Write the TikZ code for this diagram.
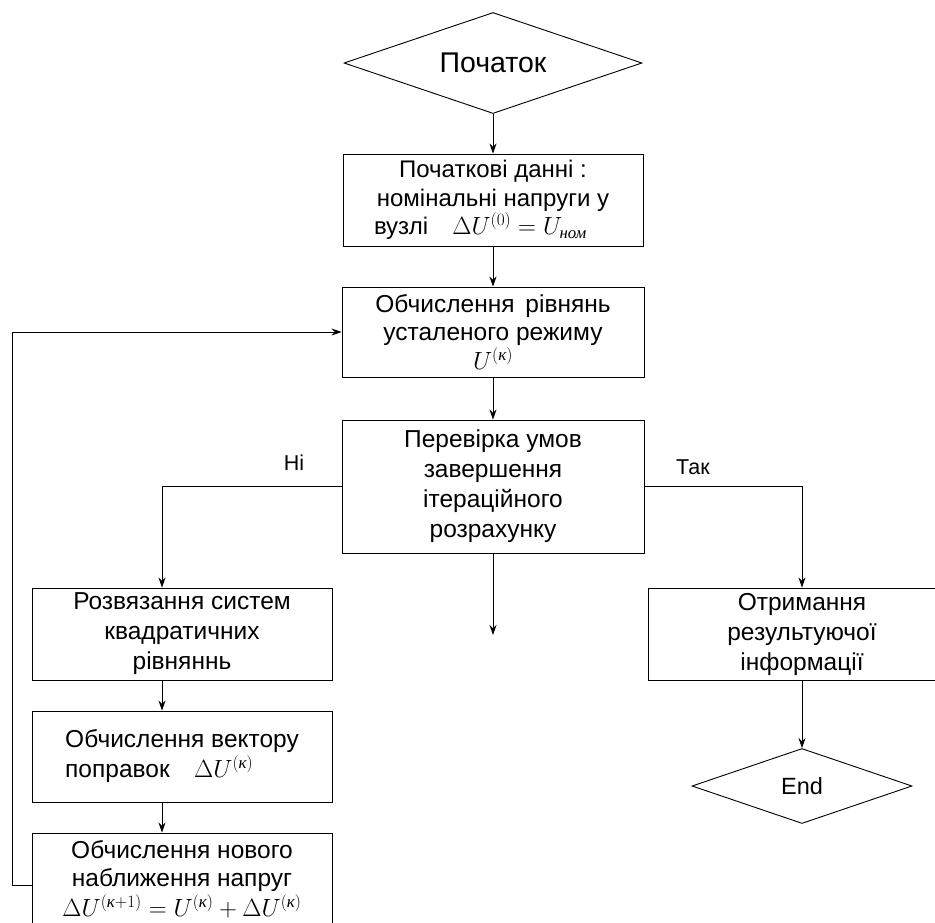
\documentclass[tikz,border=0pt]{standalone}
\usepackage{fontspec}
\usepackage{amsmath}
\setmainfont{Liberation Sans}
\newfontfamily\tnr{Liberation Serif}
\usetikzlibrary{shapes.geometric,arrows.meta}
\newcommand{\kk}{\text{\tnr\itshape к}}
\newcommand{\nom}{\text{\tnr\itshape ном}}
\begin{document}
\begin{tikzpicture}[x=1pt,y=-1pt,
  box/.style={draw, line width=0.9pt, rectangle, inner sep=0pt, font=\fontsize{24}{29}\selectfont, align=center},
  dia/.style={draw, line width=0.9pt, diamond, aspect=3, inner sep=0pt},
  arr/.style={-{Stealth[length=10pt,width=7pt]}, line width=0.9pt},
  ln/.style={line width=0.9pt},
  lbl/.style={font=\fontsize{21.5}{24}\selectfont, inner sep=0pt}]
\clip (0,0) rectangle (935,922);
\node[dia, minimum width=298pt, minimum height=101pt, font=\fontsize{28.5}{32}\selectfont] (start) at (493,63) {Початок};
\node[box, minimum width=300pt, minimum height=92pt] (b1) at (493,200)
  {Початкові данні :\\номінальні напруги у\\[-1pt]\makebox[238pt][l]{вузлі\quad $\Delta U^{(0)}=U_{\nom}$}};
\node[box, minimum width=302pt, minimum height=90pt, font=\fontsize{24.5}{28}\selectfont] (b2) at (493,332)
  {Обчислення\, рівнянь\\усталеного режиму\\[1pt]$U^{(\kk)}$};
\node[box, minimum width=302pt, minimum height=133pt, font=\fontsize{24.5}{30}\selectfont] (b3) at (493,486.5)
  {Перевірка умов\\завершення\\ітераційного\\розрахунку};
\node[box, minimum width=300pt, minimum height=92pt, font=\fontsize{24.5}{30}\selectfont] (b4) at (182,634)
  {Розвязання систем\\квадратичних\\рівняннь};
\node[box, minimum width=300pt, minimum height=91pt, font=\fontsize{24.5}{30}\selectfont] (b5) at (182,756.5)
  {\begin{tabular}{@{}l@{}}Обчислення вектору\\поправок\quad $\Delta U^{(\kk)}$\end{tabular}};
\node[box, minimum width=300pt, minimum height=92pt, font=\fontsize{24.5}{28}\selectfont] (b6) at (182,879)
  {Обчислення нового\\наближення напруг\\[2pt]$\Delta U^{(\kk+1)}=U^{(\kk)}+\Delta U^{(\kk)}$};
\node[box, minimum width=308pt, minimum height=92pt, font=\fontsize{24.5}{30}\selectfont] (br) at (802,634)
  {Отримання\\результуючої\\інформації};
\node[dia, minimum width=220pt, minimum height=75pt, font=\fontsize{23.5}{26}\selectfont] (end) at (802,786) {End};
\node[lbl] (no) at (294,463) {Ні};
\node[lbl] (yes) at (693,467) {Так};
\coordinate (lx) at (12,0);
\coordinate (dang) at (493,635);
\draw[arr] (start.south) -- (b1.north);
\draw[arr] (b1.south) -- (b2.north);
\draw[arr] (b2.south) -- (b3.north);
\draw[arr] (b3.south) -- (dang);
\draw[arr] (b3.west) -| ([xshift=-20pt]b4.north);
\draw[arr] ([xshift=-20pt]b4.south) -- ([xshift=-20pt]b5.north);
\draw[arr] ([xshift=-20pt]b5.south) -- ([xshift=-20pt]b6.north);
\draw[arr] (b3.east) -| (br.north);
\draw[arr] (br.south) -- (end.north);
\draw[arr] ([yshift=-6pt]b6.west) -- ([yshift=-6pt]b6.west -| lx) |- (b2.west);
\end{tikzpicture}
\end{document}
